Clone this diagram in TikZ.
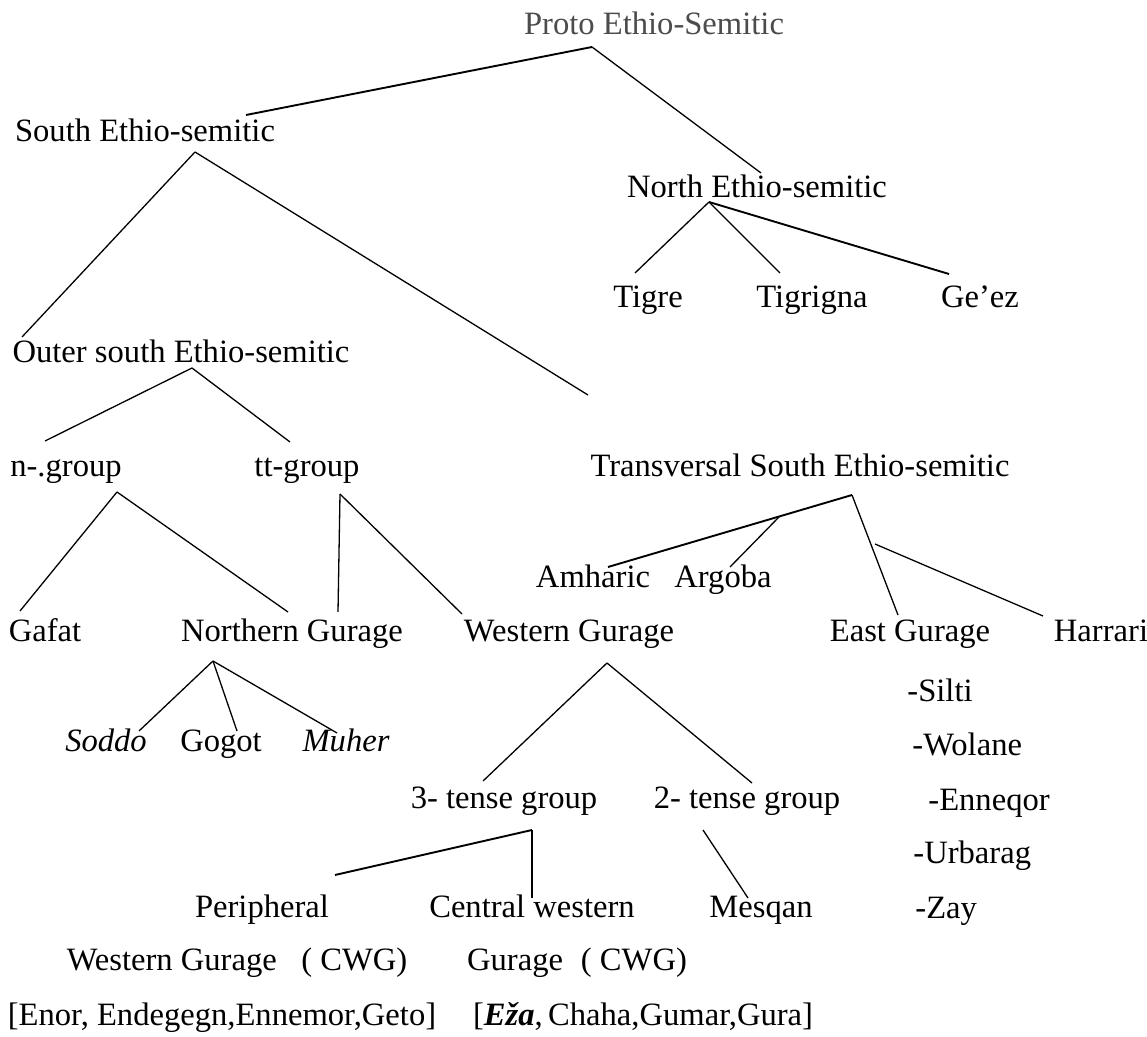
\documentclass[tikz,border=0pt]{standalone}
\usepackage{fontspec}
\setmainfont{Liberation Serif}
\begin{document}
\begin{tikzpicture}[x=0.5pt,y=-0.5pt,
  lbl/.style={anchor=base, inner sep=0pt, font=\fontsize{16.3}{19}\selectfont},
  lblw/.style={lbl, anchor=base west},
  edge/.style={line width=0.65pt, black},
  heavy/.style={line width=0.95pt, black}]
\useasboundingbox[fill=white] (0,0) rectangle (1147,1037);

% ---- nodes ----
\node[lbl, text=black!70] (proto) at (654,35) {Proto Ethio-Semitic};
\node[lbl] (south) at (145,142) {South Ethio-semitic};
\node[lbl] (north) at (757,198) {North Ethio-semitic};
\node[lbl] (tigre) at (648,308) {Tigre};
\node[lbl] (tigrigna) at (812,308) {Tigrigna};
\node[lbl] (geez) at (980,308) {Ge’ez};
\node[lbl] (outer) at (181,363) {Outer south Ethio-semitic};
\node[lbl] (ngroup) at (66,477) {n-.group};
\node[lbl] (ttgroup) at (307,477) {tt-group};
\node[lbl] (trans) at (800,477) {Transversal South Ethio-semitic};
\node[lbl] (amharic) at (593,588) {Amharic};
\node[lbl] (argoba) at (723,588) {Argoba};
\node[lbl] (gafat) at (45,642) {Gafat};
\node[lbl] (northern) at (292,642) {Northern Gurage};
\node[lbl] (western) at (569,642) {Western Gurage};
\node[lbl] (east) at (910,642) {East Gurage};
\node[lbl] (harrari) at (1101,642) {Harrari};
\node[lbl] (soddo) at (106,751) {\itshape Soddo};
\node[lbl] (gogot) at (221,751) {Gogot};
\node[lbl] (muher) at (346,751) {\itshape Muher};
\node[lbl] (three) at (504,808) {3- tense group};
\node[lbl] (two) at (747,808) {2- tense group};
\node[lbl] (peripheral) at (262,917) {Peripheral};
\node[lbl] (central) at (532,917) {Central western};
\node[lbl] (mesqan) at (761,917) {Mesqan};
\node[lbl] (wgcwg) at (237,970) {Western Gurage\hspace{0.5em} ( CWG)};
\node[lbl] (gcwg) at (577,970) {Gurage\hspace{0.3em} ( CWG)};
\node[lbl] (enor) at (222,1025) {[Enor, Endegegn,Ennemor,Geto]};
\node[lbl] (eza) at (643,1025) {[\textbf{\textit{Eža}},\,Chaha,Gumar,Gura]};
\node[lblw] (silti) at (907,702) {-Silti};
\node[lblw] (wolane) at (912,755) {-Wolane};
\node[lblw] (enneqor) at (928,810) {-Enneqor};
\node[lblw] (urbarag) at (913,863) {-Urbarag};
\node[lblw] (zay) at (915,918) {-Zay};

% ---- connector end points ----
\coordinate (proto-b) at (592,47);
\coordinate (south-t) at (246,115);
\coordinate (north-t) at (761,173);
\coordinate (south-b) at (195,152);
\coordinate (outer-t) at (22,337);
\coordinate (trans-t) at (588,395);
\coordinate (north-b) at (709,202);
\coordinate (tigre-t) at (635,273);
\coordinate (tigrigna-t) at (780,273);
\coordinate (geez-t) at (949,274);
\coordinate (outer-b) at (192,368);
\coordinate (ngroup-t) at (45,441);
\coordinate (ttgroup-t) at (290,442);
\coordinate (ngroup-b) at (117,492);
\coordinate (gafat-t) at (20,611);
\coordinate (northern-t) at (288,612);
\coordinate (ttgroup-b) at (340,494);
\coordinate (northern-t2) at (338,612);
\coordinate (western-t) at (462,614);
\coordinate (trans-b) at (852,495);
\coordinate (amharic-t) at (608,567);
\coordinate (argoba-j) at (779,517);
\coordinate (argoba-t) at (730,567);
\coordinate (east-t) at (898,615);
\coordinate (harrari-j) at (875,544);
\coordinate (harrari-t) at (1043,616);
\coordinate (northern-b) at (213,661);
\coordinate (soddo-t) at (139,731);
\coordinate (gogot-t) at (237,731);
\coordinate (muher-t) at (337,733);
\coordinate (western-b) at (607,663);
\coordinate (three-t) at (483,781);
\coordinate (two-t) at (752,783);
\coordinate (three-b) at (532,830);
\coordinate (peripheral-t) at (335,875);
\coordinate (central-t) at (532,898);
\coordinate (two-b) at (703,830);
\coordinate (mesqan-t) at (748,898);

% ---- connectors ----
\draw[heavy] (proto-b) -- (south-t);
\draw[edge] (proto-b) -- (north-t);
\draw[edge] (south-b) -- (outer-t);
\draw[edge] (south-b) -- (trans-t);
\draw[edge] (north-b) -- (tigre-t);
\draw[edge] (north-b) -- (tigrigna-t);
\draw[heavy] (north-b) -- (geez-t);
\draw[edge] (outer-b) -- (ngroup-t);
\draw[edge] (outer-b) -- (ttgroup-t);
\draw[edge] (ngroup-b) -- (gafat-t);
\draw[edge] (ngroup-b) -- (northern-t);
\draw[edge] (ttgroup-b) -- (northern-t2);
\draw[edge] (ttgroup-b) -- (western-t);
\draw[heavy] (trans-b) -- (amharic-t);
\draw[edge] (argoba-j) -- (argoba-t);
\draw[edge] (trans-b) -- (east-t);
\draw[edge] (harrari-j) -- (harrari-t);
\draw[edge] (northern-b) -- (soddo-t);
\draw[edge] (northern-b) -- (gogot-t);
\draw[edge] (northern-b) -- (muher-t);
\draw[edge] (western-b) -- (three-t);
\draw[edge] (western-b) -- (two-t);
\draw[heavy] (three-b) -- (peripheral-t);
\draw[edge] (three-b) -- (central-t);
\draw[edge] (two-b) -- (mesqan-t);
\end{tikzpicture}
\end{document}
